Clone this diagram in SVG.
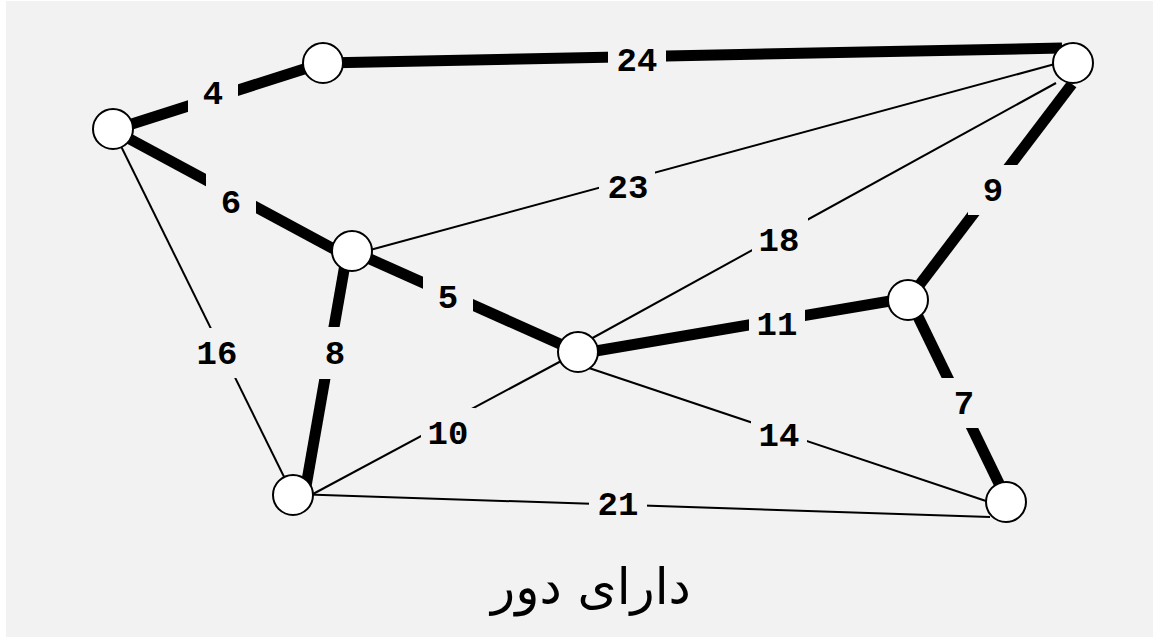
<svg xmlns="http://www.w3.org/2000/svg" width="1153" height="637" viewBox="0 0 1153 637">
<style>
.thick{stroke:#000;stroke-width:11;stroke-linecap:butt;fill:none}
.thin{stroke:#000;stroke-width:2;fill:none}
.lbg{fill:#f2f2f2;stroke:none}
.lbl{font-family:"Liberation Mono","Courier New",monospace;font-weight:bold;font-size:34px;fill:#000;text-anchor:middle}
.node{fill:#fff;stroke:#000;stroke-width:2}
.cap{font-family:"DejaVu Sans","Noto Sans",sans-serif;font-size:50px;fill:#000;text-anchor:middle}
</style>
<rect x="0" y="0" width="1153" height="637" fill="#ffffff"/>
<rect x="6" y="1" width="1147" height="636" fill="#f2f2f2"/>
<g id="connectors">
  <line class="thick" x1="113" y1="130" x2="323" y2="63"/>
  <line class="thick" x1="323" y1="63" x2="1062" y2="48"/>
  <line class="thick" x1="113" y1="130" x2="345" y2="255"/>
  <line class="thin" x1="113" y1="130" x2="293" y2="495"/>
  <line class="thin" x1="370" y1="250" x2="1055" y2="64"/>
  <line class="thick" x1="352" y1="251" x2="578" y2="352"/>
  <line class="thick" x1="347" y1="253" x2="305" y2="492"/>
  <line class="thin" x1="578" y1="346" x2="1056" y2="83"/>
  <line class="thick" x1="578" y1="354" x2="908" y2="298"/>
  <line class="thick" x1="1072" y1="84" x2="908" y2="300"/>
  <line class="thick" x1="908" y1="296" x2="1008" y2="502"/>
  <line class="thin" x1="578" y1="352" x2="313" y2="494"/>
  <line class="thin" x1="580" y1="365" x2="986" y2="501"/>
  <line class="thin" x1="293" y1="494" x2="990" y2="517"/>
  <g id="labels">
    <rect class="lbg" x="188" y="70" width="50" height="50"/><text class="lbl" x="213" y="104">4</text>
    <rect class="lbg" x="608" y="30" width="58" height="50"/><text class="lbl" x="637" y="71">24</text>
    <rect class="lbg" x="206" y="174" width="50" height="50"/><text class="lbl" x="231" y="213">6</text>
    <rect class="lbg" x="188" y="328" width="58" height="50"/><text class="lbl" x="217" y="364">16</text>
    <rect class="lbg" x="599" y="158" width="56" height="50"/><text class="lbl" x="628" y="198">23</text>
    <rect class="lbg" x="423" y="272" width="50" height="50"/><text class="lbl" x="448" y="308">5</text>
    <rect class="lbg" x="310" y="327" width="50" height="52"/><text class="lbl" x="335" y="364">8</text>
    <rect class="lbg" x="752" y="214" width="56" height="50"/><text class="lbl" x="779" y="251">18</text>
    <rect class="lbg" x="749" y="299" width="56" height="50"/><text class="lbl" x="777" y="335">11</text>
    <rect class="lbg" x="968" y="165" width="50" height="50"/><text class="lbl" x="993" y="201">9</text>
    <rect class="lbg" x="939" y="378" width="50" height="50"/><text class="lbl" x="964" y="414">7</text>
    <rect class="lbg" x="421" y="408" width="54" height="50"/><text class="lbl" x="448" y="444">10</text>
    <rect class="lbg" x="751" y="410" width="56" height="50"/><text class="lbl" x="779" y="446">14</text>
    <rect class="lbg" x="589" y="479" width="58" height="50"/><text class="lbl" x="618" y="515">21</text>
  </g>
</g>
<g id="nA"><circle class="node" cx="113" cy="129" r="20"/></g>
<g id="nB"><circle class="node" cx="323" cy="63" r="20"/></g>
<g id="nC"><circle class="node" cx="1073" cy="63" r="20"/></g>
<g id="nD"><circle class="node" cx="352" cy="251" r="20"/></g>
<g id="nE"><circle class="node" cx="578" cy="352" r="20"/></g>
<g id="nF"><circle class="node" cx="293" cy="495" r="20"/></g>
<g id="nG"><circle class="node" cx="908" cy="300" r="20"/></g>
<g id="nH"><circle class="node" cx="1006" cy="502" r="20"/></g>
<g id="caption"><text class="cap" x="591" y="604" direction="rtl">دارای دور</text></g>
</svg>
